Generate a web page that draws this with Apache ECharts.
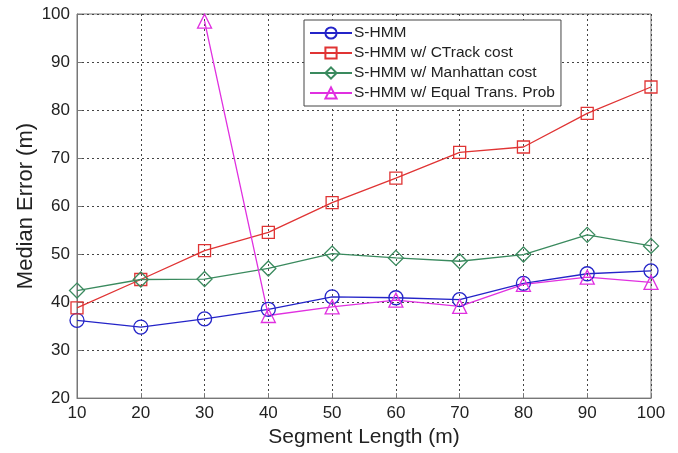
<!DOCTYPE html>
<html><head><meta charset="utf-8">
<script src="https://cdn.jsdelivr.net/npm/echarts@6/dist/echarts.min.js"></script>
<style>html,body{margin:0;padding:0;background:#fff}#c{width:678px;height:453px}</style>
</head><body><div id="c"></div>
<script>
const segmentLength = [10, 20, 30, 40, 50, 60, 70, 80, 90, 100];
const sHMM = [36.2, 34.8, 36.5, 38.5, 41.1, 40.9, 40.5, 43.9, 45.9, 46.5];
const ctrackCost = [38.8, 44.7, 50.7, 54.5, 60.7, 65.8, 71.2, 72.3, 79.3, 84.8];
const manhattanCost = [42.4, 44.7, 44.8, 47.0, 50.1, 49.2, 48.5, 49.9, 54.0, 51.7];
const equalTrans = [null, null, 98.5, 37.2, 39.0, 40.4, 39.1, 43.7, 45.2, 44.1];
const seriesNames = ['S-HMM', 'S-HMM w/ CTrack cost', 'S-HMM w/ Manhattan cost', 'S-HMM w/ Equal Trans. Prob'];

const font = 'Liberation Sans, Arial, sans-serif';
function pairs(v){ return segmentLength.map((x,i)=>[x, v[i]]); }
function mk(name, data, color, symbol, size){
  return {
    name, type:'line', data: pairs(data), symbol, symbolSize: size,
    connectNulls:false,
    lineStyle:{color, width:1.3},
    itemStyle:{color:'rgba(255,255,255,0)', borderColor:color, borderWidth:1.3},
    emphasis:{disabled:true}, z: 3
  };
}
const chart = echarts.init(document.getElementById('c'));
chart.setOption({
  animation:false,
  backgroundColor:'#fff',
  grid:{left:77, right:27, top:14, bottom:54, show:true, borderColor:'#777', borderWidth:1, backgroundColor:'transparent'},
  legend:{
    orient:'vertical', left:304, top:20, data:seriesNames,
    backgroundColor:'#fff', borderColor:'#444', borderWidth:1,
    padding:[5,6,5,5], itemGap:4, itemWidth:42, itemHeight:14,
    textStyle:{fontFamily:font, fontSize:15.5, color:'#222', padding:[0,0,0,-3]},
    z: 10
  },
  xAxis:{
    type:'value', min:10, max:100, interval:10,
    name:'Segment Length (m)', nameLocation:'middle', nameGap:27,
    nameTextStyle:{fontFamily:font, fontSize:21, color:'#222'},
    axisLine:{lineStyle:{color:'#777'}},
    axisTick:{inside:true, length:5, lineStyle:{color:'#777'}},
    axisLabel:{fontFamily:font, fontSize:17, color:'#222', margin:7},
    splitLine:{show:true, lineStyle:{color:'#444', type:[2,3], width:1}}
  },
  yAxis:{
    type:'value', min:20, max:100, interval:10,
    name:'Median Error (m)', nameLocation:'middle', nameGap:40, nameMoveOverlap:false,
    nameTextStyle:{fontFamily:font, fontSize:22, color:'#222'},
    axisLine:{lineStyle:{color:'#777'}},
    axisTick:{inside:true, length:5, lineStyle:{color:'#777'}},
    axisLabel:{fontFamily:font, fontSize:17, color:'#222', margin:7},
    splitLine:{show:true, lineStyle:{color:'#444', type:[2,3], width:1}}
  },
  series:[
    mk(seriesNames[0], sHMM, '#2424c8', 'circle', 14),
    mk(seriesNames[1], ctrackCost, '#e03434', 'rect', 12),
    mk(seriesNames[2], manhattanCost, '#3a8a5e', 'diamond', 15),
    mk(seriesNames[3], equalTrans, '#e030e0', 'triangle', 14)
  ]
});
</script></body></html>
